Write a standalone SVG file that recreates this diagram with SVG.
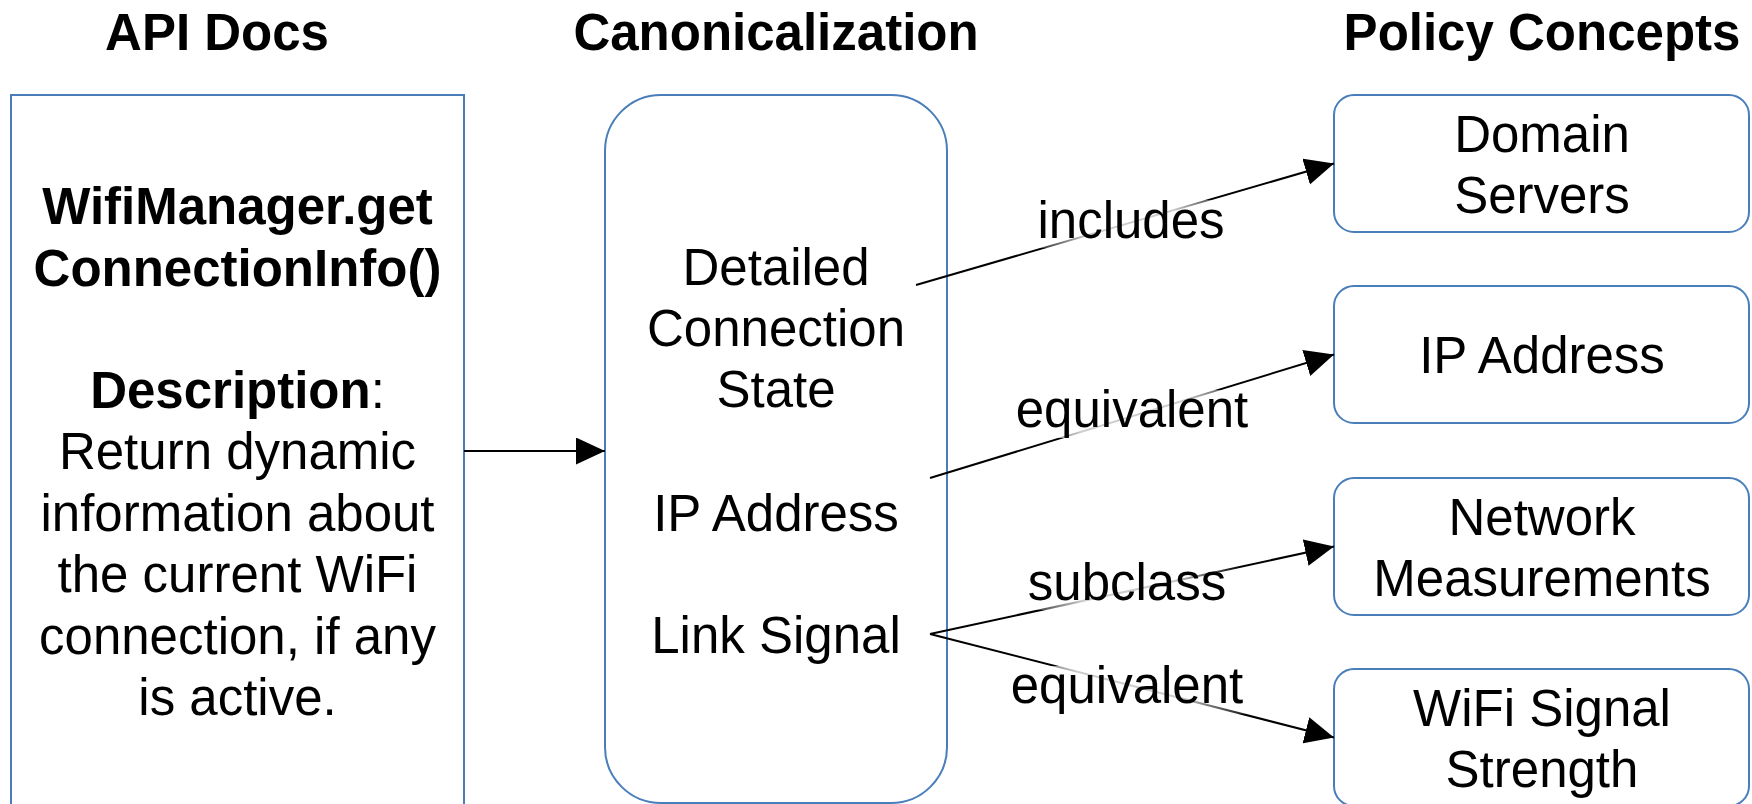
<svg xmlns="http://www.w3.org/2000/svg" width="1752" height="804" viewBox="0 0 1752 804">
  <style>
    text { font-family: "Liberation Sans", Arial, sans-serif; font-size: 51px; fill: #000; text-anchor: middle; }
    .b { font-weight: bold; }
    .box { fill: #fff; stroke: #4a7ebb; stroke-width: 2; }
    .edge { fill: none; stroke: #000; stroke-width: 2; marker-end: url(#arrow); }
    .halo { fill: url(#fade); stroke: none; }
  </style>
  <defs>
    <marker id="arrow" markerUnits="userSpaceOnUse" markerWidth="30" markerHeight="28" refX="29" refY="13.5" orient="auto">
      <path d="M0,0 L29,13.5 L0,27 z" fill="#000"/>
    </marker>
    <linearGradient id="fade" x1="0" y1="0" x2="1" y2="0">
      <stop offset="0" stop-color="#fff" stop-opacity="0"/>
      <stop offset="0.3" stop-color="#fff" stop-opacity="0.8"/>
      <stop offset="0.7" stop-color="#fff" stop-opacity="0.8"/>
      <stop offset="1" stop-color="#fff" stop-opacity="0"/>
    </linearGradient>
  </defs>

  <rect width="1752" height="804" fill="#fff"/>

  <!-- column headings -->
  <g id="headings">
    <text class="b" x="217" y="50">API Docs</text>
    <text class="b" x="776" y="50">Canonicalization</text>
    <text class="b" x="1542" y="50">Policy Concepts</text>
  </g>

  <!-- API documentation entry -->
  <g id="api-doc">
    <rect class="box" x="11" y="95" width="453" height="720"/>
    <text class="b" x="237.5" y="224">WifiManager.get</text>
    <text class="b" x="237.5" y="286">ConnectionInfo()</text>
    <text x="237.5" y="408"><tspan class="b">Description</tspan>:</text>
    <text x="237.5" y="469">Return dynamic</text>
    <text x="237.5" y="531">information about</text>
    <text x="237.5" y="592">the current WiFi</text>
    <text x="237.5" y="654">connection, if any</text>
    <text x="237.5" y="715">is active.</text>
  </g>

  <!-- canonicalized phrases -->
  <g id="canonical">
    <rect class="box" x="605" y="95" width="342" height="708" rx="56" ry="56"/>
    <text x="776" y="285">Detailed</text>
    <text x="776" y="346">Connection</text>
    <text x="776" y="407">State</text>
    <text x="776" y="531">IP Address</text>
    <text x="776" y="653">Link Signal</text>
  </g>

  <!-- policy concepts -->
  <g id="concept-domain-servers">
    <rect class="box" x="1334" y="95" width="415" height="137" rx="20" ry="20"/>
    <text x="1542" y="152">Domain</text>
    <text x="1542" y="213">Servers</text>
  </g>
  <g id="concept-ip-address">
    <rect class="box" x="1334" y="286" width="415" height="137" rx="20" ry="20"/>
    <text x="1542" y="373">IP Address</text>
  </g>
  <g id="concept-network-measurements">
    <rect class="box" x="1334" y="478" width="415" height="137" rx="20" ry="20"/>
    <text x="1542" y="535">Network</text>
    <text x="1542" y="596">Measurements</text>
  </g>
  <g id="concept-wifi-signal-strength">
    <rect class="box" x="1334" y="669" width="415" height="137" rx="20" ry="20"/>
    <text x="1542" y="726">WiFi Signal</text>
    <text x="1542" y="787">Strength</text>
  </g>

  <!-- connectors with their relation labels -->
  <g id="connectors">
    <line class="edge" x1="464" y1="451" x2="605" y2="451"/>

    <line class="edge" x1="916" y1="285" x2="1334" y2="163.5"/>
    <rect class="halo" x="1025" y="200" width="212" height="48"/>
    <text x="1131" y="238">includes</text>

    <line class="edge" x1="930" y1="478" x2="1334" y2="354.5"/>
    <rect class="halo" x="1005" y="390" width="255" height="48"/>
    <text x="1132" y="427">equivalent</text>

    <line class="edge" x1="930" y1="634" x2="1334" y2="546.5"/>
    <rect class="halo" x="1015" y="562" width="225" height="48"/>
    <text x="1127" y="600">subclass</text>

    <line class="edge" x1="930" y1="634" x2="1334" y2="737.5"/>
    <rect class="halo" x="1000" y="666" width="255" height="48"/>
    <text x="1127" y="703">equivalent</text>
  </g>
</svg>
